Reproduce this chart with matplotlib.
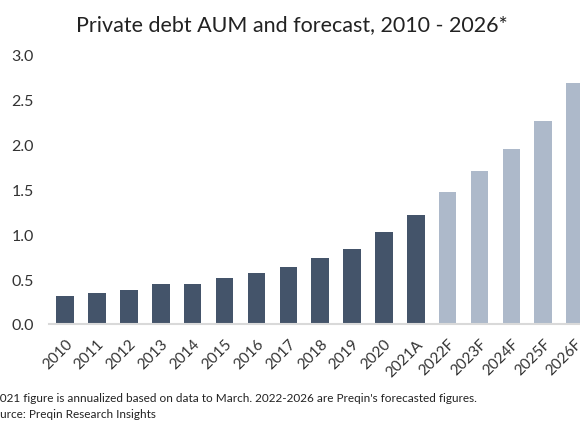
import matplotlib
matplotlib.use("Agg")
import matplotlib.pyplot as plt

categories = ["2010", "2011", "2012", "2013", "2014", "2015", "2016", "2017", "2018",
              "2019", "2020", "2021A", "2022F", "2023F", "2024F", "2025F", "2026F"]
values = [0.31, 0.34, 0.375, 0.44, 0.445, 0.51, 0.57, 0.63, 0.73,
          0.83, 1.03, 1.21, 1.47, 1.71, 1.95, 2.26, 2.69]
forecast = [False] * 12 + [True] * 5
yticks = [0.0, 0.5, 1.0, 1.5, 2.0, 2.5, 3.0]
title = "Private debt AUM and forecast, 2010 - 2026*"
note1 = "*2021 figure is annualized based on data to March. 2022-2026 are Preqin's forecasted figures."
note2 = "Source: Preqin Research Insights"

plt.rcParams['font.family'] = ['Lato', 'DejaVu Sans']

fig = plt.figure(figsize=(5.8, 4.35), dpi=100)
ax = fig.add_axes([0.085, 0.2529, 0.934, 0.619])

colors = ["#adb9ca" if f else "#44546a" for f in forecast]
x = list(range(len(categories)))
ax.bar(x, values, width=0.55, color=colors, zorder=2)

ax.set_xlim(-0.5, 16.5)
ax.set_ylim(0, 3.0)
ax.set_yticks(yticks)
ax.set_yticklabels([f"{v:.1f}" for v in yticks], fontsize=11.5, color="#333333")
ax.set_xticks(x)
ax.set_xticklabels(categories, rotation=45, ha="right", rotation_mode="anchor",
                   fontsize=11, color="#333333")
ax.tick_params(axis="both", length=0)
ax.tick_params(axis="y", pad=11)
ax.tick_params(axis="x", pad=9)
for s in ["top", "right", "left"]:
    ax.spines[s].set_visible(False)
ax.spines["bottom"].set_color("#d9d9d9")
ax.spines["bottom"].set_linewidth(1.5)

fig.text(0.503, 0.943, title, ha="center", va="center", fontsize=15.5, color="#222222")
fig.text(-0.021, 0.085, note1, ha="left", va="center", fontsize=8.5, color="#222222")
fig.text(-0.022, 0.046, note2, ha="left", va="center", fontsize=8.5, color="#222222")

fig.savefig("out.png", dpi=100)
